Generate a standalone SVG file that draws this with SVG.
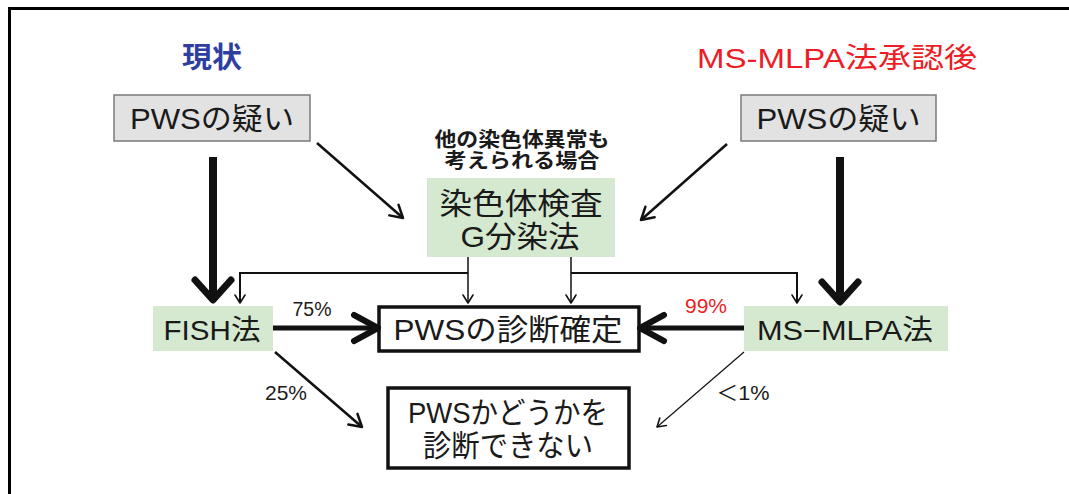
<svg xmlns="http://www.w3.org/2000/svg" width="1069" height="494" viewBox="0 0 1069 494">
<style>
text{font-family:"Liberation Sans","Noto Sans CJK JP",sans-serif;fill:#1a1a1a;text-anchor:middle;dominant-baseline:central}
.q{fill:#e2e2e2;stroke:#7a7a7a;stroke-width:1.5}
.g{fill:#d5e8d0;stroke:none}
.r{fill:#fff;stroke:#111;stroke-width:3.5}
.big{font-size:30px}
.mid{font-size:28px}
.pct{font-size:21px}
.c{fill:none;stroke:#111}
</style>
<defs>
<marker id="hv" markerUnits="userSpaceOnUse" viewBox="-24 -24 32 48" refX="0" refY="0" markerWidth="32" markerHeight="48" orient="auto">
<path d="M-17,-18 L3,0 L-17,18" fill="none" stroke="#111" stroke-width="7" stroke-linecap="round" stroke-linejoin="round"/>
</marker>
<marker id="hh" markerUnits="userSpaceOnUse" viewBox="-28 -18 34 36" refX="0" refY="0" markerWidth="34" markerHeight="36" orient="auto">
<path d="M-22,-13 L2,0 L-22,13" fill="none" stroke="#111" stroke-width="6" stroke-linecap="round" stroke-linejoin="round"/>
</marker>
<marker id="th" markerUnits="userSpaceOnUse" viewBox="-16 -10 20 20" refX="0" refY="0" markerWidth="20" markerHeight="20" orient="auto">
<path d="M-12,-7 L0,0 L-12,7" fill="none" stroke="#111" stroke-width="2.5" stroke-linecap="round" stroke-linejoin="round"/>
</marker>
<marker id="sm" markerUnits="userSpaceOnUse" viewBox="-10 -8 12 16" refX="0" refY="0" markerWidth="12" markerHeight="16" orient="auto">
<path d="M-8,-5 L0,0 L-8,5" fill="none" stroke="#111" stroke-width="1.6" stroke-linecap="round" stroke-linejoin="round"/>
</marker>
</defs>
<rect width="1069" height="494" fill="#fff"/>
<path d="M9.5,494 V8.5 H1069" fill="none" stroke="#000" stroke-width="3"/>
<g id="title-left"><text x="212" y="58" font-size="29" font-weight="bold" style="fill:#2f3f9f" textLength="60" lengthAdjust="spacingAndGlyphs">現状</text></g>
<g id="title-right"><text x="837" y="58" font-size="28" style="fill:#ee1c25" textLength="280" lengthAdjust="spacingAndGlyphs">MS-MLPA法承認後</text></g>
<g id="susp-left"><rect class="q" x="114" y="95" width="196" height="46"/><text class="big" x="212" y="118" textLength="164" lengthAdjust="spacingAndGlyphs">PWSの疑い</text></g>
<g id="susp-right"><rect class="q" x="741" y="95" width="195" height="46"/><text class="big" x="838.5" y="118" textLength="164" lengthAdjust="spacingAndGlyphs">PWSの疑い</text></g>
<g id="note"><text x="522" y="140" font-size="20" font-weight="bold" textLength="175" lengthAdjust="spacingAndGlyphs">他の染色体異常も</text><text x="522" y="161" font-size="20" font-weight="bold" textLength="155" lengthAdjust="spacingAndGlyphs">考えられる場合</text></g>
<g id="karyo"><rect class="g" x="427" y="178" width="188" height="79"/><text class="big" x="521" y="203" textLength="163" lengthAdjust="spacingAndGlyphs">染色体検査</text><text class="big" x="520" y="236" textLength="119" lengthAdjust="spacingAndGlyphs">G分染法</text></g>
<g id="fish"><rect class="g" x="153" y="306" width="120" height="45"/><text class="mid" x="212" y="330" textLength="97" lengthAdjust="spacingAndGlyphs">FISH法</text></g>
<g id="confirm"><rect class="r" x="379" y="307" width="260" height="44"/><text class="big" x="508" y="329" textLength="229" lengthAdjust="spacingAndGlyphs">PWSの診断確定</text></g>
<g id="mlpa"><rect class="g" x="744" y="306" width="204" height="45"/><text class="mid" x="845" y="330" textLength="176" lengthAdjust="spacingAndGlyphs">MS−MLPA法</text></g>
<g id="undetermined"><rect class="r" x="388" y="388" width="241" height="80"/><text class="big" x="508" y="412" textLength="200" lengthAdjust="spacingAndGlyphs">PWSかどうかを</text><text class="big" x="508" y="445" textLength="170" lengthAdjust="spacingAndGlyphs">診断できない</text></g>
<g id="connectors">
<line class="c" x1="213" y1="157" x2="213" y2="297" stroke-width="8" marker-end="url(#hv)"/>
<line class="c" x1="840" y1="157" x2="840" y2="299" stroke-width="8" marker-end="url(#hv)"/>
<line class="c" x1="317" y1="143" x2="403" y2="218" stroke-width="2.5" marker-end="url(#th)"/>
<line class="c" x1="727" y1="144" x2="641" y2="220" stroke-width="2.5" marker-end="url(#th)"/>
<path class="c" d="M468,257 V303" stroke-width="1.5" marker-end="url(#sm)"/>
<path class="c" d="M468,273 H240 V303" stroke-width="2" marker-end="url(#sm)"/>
<path class="c" d="M571,257 V303" stroke-width="1.5" marker-end="url(#sm)"/>
<path class="c" d="M571,273 H797 V303" stroke-width="2" marker-end="url(#sm)"/>
<line class="c" x1="273" y1="328" x2="376" y2="328" stroke-width="5" marker-end="url(#hh)"/>
<line class="c" x1="744" y1="328" x2="642" y2="328" stroke-width="5" marker-end="url(#hh)"/>
<line class="c" x1="275" y1="352" x2="362" y2="427" stroke-width="2.5" marker-end="url(#th)"/>
<line class="c" x1="744" y1="352" x2="657" y2="427" stroke-width="1.2" marker-end="url(#sm)"/>
</g>
<g id="labels">
<text class="pct" x="312" y="308" textLength="39" lengthAdjust="spacingAndGlyphs">75%</text>
<text class="pct" x="706" y="305" style="fill:#ee1c25" textLength="42" lengthAdjust="spacingAndGlyphs">99%</text>
<text class="pct" x="286" y="392" textLength="42" lengthAdjust="spacingAndGlyphs">25%</text>
<text class="pct" x="743" y="392" textLength="53" lengthAdjust="spacingAndGlyphs">＜1%</text>
</g>
</svg>
